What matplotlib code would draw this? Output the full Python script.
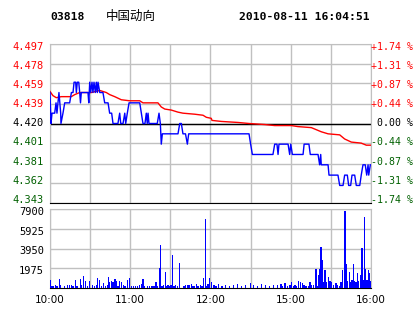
# Intraday chart: 03818 price / average line on top, volume bars below

import matplotlib
matplotlib.use('Agg')
import matplotlib.pyplot as plt
import matplotlib.transforms as mtransforms

# --- Header text ---
code = '03818'
name = '中国动向'
stamp = '2010-08-11 16:04:51'

# --- Axis labels ---
prev_close = 4.42
price_ticks = [4.343, 4.362, 4.381, 4.401, 4.420, 4.439, 4.459, 4.478, 4.497]
price_labels = ['4.343', '4.362', '4.381', '4.401', '4.420', '4.439', '4.459', '4.478', '4.497']
pct_labels = ['-1.74 %', '-1.31 %', '-0.87 %', '-0.44 %', '0.00 %', '+0.44 %', '+0.87 %', '+1.31 %', '+1.74 %']
vol_ticks = [1975, 3950, 5925, 7900]
time_ticks = [0, 60, 120, 180, 240]   # minutes of trading since 10:00
time_labels = ['10:00', '11:00', '12:00', '15:00', '16:00']

# --- Price line (minute, price) ---
price_min = [0, 0.75, 1.5, 3.5, 4.5, 5.2, 6.7, 8, 8.2, 9.7, 11, 14.7, 16, 17.2, 18, 19.2,
             19.7, 20.4, 21.5, 22.2, 22.8, 23.4, 28.4, 29, 29.7, 30.4, 31.4, 32.1, 32.9,
             33.9, 34.6, 35.4, 35.9, 37.2, 39.6, 40.9, 43.4, 44.6, 46.1, 47.1, 50.8, 52.1,
             52.9, 54.6, 55.9, 56.6, 57.8, 59.1, 67.1, 68.3, 69.5, 71, 72, 72.7, 73.3, 74,
             80.2, 81.5, 82.5, 83.2, 84, 95.7, 97, 98.2, 99.4, 101.3, 102.7, 103.7, 148.8,
             150, 151.3, 166.7, 168, 169.7, 170.5, 171.2, 178, 179.2, 180, 181.2, 189.2,
             190, 193.6, 194.6, 200.4, 201.6, 202.4, 202.8, 207.9, 208.6, 215.3, 216.6,
             219.1, 220.3, 222.3, 223.3, 224.8, 225.8, 227.8, 229, 231.6, 232.7, 234,
             235.7, 236.8, 237.8, 238.3, 239.5]
price = [4.45, 4.42, 4.43, 4.43, 4.44, 4.43, 4.45, 4.43, 4.42, 4.43, 4.44, 4.44, 4.45, 4.45,
         4.46, 4.46, 4.45, 4.46, 4.46, 4.45, 4.44, 4.45, 4.45, 4.44, 4.46, 4.45, 4.46, 4.45,
         4.46, 4.45, 4.46, 4.45, 4.46, 4.45, 4.45, 4.44, 4.44, 4.43, 4.43, 4.42, 4.42, 4.43,
         4.42, 4.42, 4.43, 4.42, 4.43, 4.44, 4.44, 4.43, 4.42, 4.42, 4.43, 4.42, 4.43, 4.42,
         4.42, 4.43, 4.42, 4.40, 4.41, 4.41, 4.42, 4.42, 4.41, 4.41, 4.40, 4.41, 4.41,
         4.40, 4.39, 4.39, 4.40, 4.40, 4.39, 4.40, 4.40, 4.39, 4.40, 4.39, 4.39,
         4.40, 4.40, 4.39, 4.39, 4.38, 4.39, 4.38, 4.38, 4.37, 4.37, 4.36,
         4.36, 4.37, 4.37, 4.36, 4.36, 4.37, 4.37, 4.36, 4.36, 4.37, 4.38,
         4.38, 4.37, 4.38, 4.37, 4.38]

# --- Average price line (minute, price) ---
avg_min = [0, 2.2, 4.7, 8.4, 12.2, 15.9, 18.5, 22.2, 30.9, 37.2, 42.1, 44.6, 48.4, 53.3,
           59.6, 67.1, 69.5, 80.7, 83.2, 85.8, 90.7, 95.7, 99.4, 108.2, 114.4, 116.9, 120.6,
           121.1, 128.1, 140.6, 148.8, 160.5, 168, 180.4, 185.4, 195.4, 202.8, 207.9, 216.6,
           220.3, 225.3, 232.7, 236.5, 239.8]
avg = [4.451, 4.447, 4.445, 4.446, 4.446, 4.446, 4.448, 4.450, 4.450, 4.452, 4.450, 4.448,
       4.446, 4.443, 4.442, 4.442, 4.440, 4.440, 4.436, 4.434, 4.433, 4.431, 4.430, 4.429,
       4.428, 4.426, 4.425, 4.423, 4.422, 4.421, 4.420, 4.419, 4.418, 4.418, 4.417, 4.416,
       4.412, 4.410, 4.409, 4.405, 4.402, 4.401, 4.399, 4.399]

# --- Volume bars (minute, shares) ---
vol_min = [0, 1, 2.2, 4, 5.2, 7, 8, 11, 13, 14.5, 16, 17.2, 19, 20.2, 22.7, 23.4, 24.9, 26.4,
           27.9, 29.4, 31.7, 33.4, 34.6, 35.4, 37.1, 38.4, 40.1, 41.4, 42.9, 43.6, 44.6, 45.9,
           47.1, 48.6, 49.6, 50.8, 51.8, 53.3, 54.8, 56.1, 57.8, 59.3, 60.8, 62.3, 63.8, 65.3,
           67, 68.3, 69.5, 70.8, 72.8, 74.5, 76.3, 77.8, 79.3, 80.5, 81.7, 82.5, 83.7, 85,
           86.2, 87.2, 88.2, 89.5, 90.5, 91.5, 92.7, 94, 95.2, 97, 98.2, 100.2, 101.2, 103.2,
           104.4, 105.7, 106.9, 108.2, 109.4, 110.7, 112.4, 113.6, 114.6, 116.1, 117.1, 118.1,
           119.1, 120.6, 122.5, 124, 126, 128.5, 131, 134, 137, 140, 143, 146, 150, 152, 155,
           158, 161, 164, 167, 170, 172.7, 174, 175.7, 177.4, 179.4, 180.7, 181.9, 183.2,
           184.4, 185.7, 187.4, 188.9, 189.9, 191.4, 193.1, 194.4, 195.6, 196.9, 198.9, 199.9,
           200.9, 201.9, 202.6, 203.6, 204.4, 205.6, 206.9, 208.4, 209.3, 210.6, 211.8, 213.8,
           214.8, 216.3, 217.6, 218.8, 220, 220.6, 221.6, 222.6, 223.8, 224.8, 225.8, 226.8,
           227.8, 228.8, 229.8, 230.8, 232, 233.3, 234.3, 235, 236.1, 237, 238, 238.8, 239.5]
vol = [800, 250, 250, 300, 250, 900, 300, 250, 300, 300, 300, 250, 800, 250, 900, 350, 1250,
       700, 250, 700, 300, 200, 350, 1050, 800, 200, 500, 200, 350, 1100, 650, 700, 600, 900,
       700, 250, 700, 650, 350, 250, 800, 1000, 250, 200, 200, 200, 350, 450, 900, 250, 200,
       200, 200, 200, 570, 250, 1980, 4320, 200, 300, 1570, 200, 300, 200, 300, 3320, 200,
       300, 200, 2480, 50, 250, 300, 350, 350, 450, 250, 250, 450, 250, 350, 250, 980, 6930,
       200, 450, 970, 600, 300, 250, 400, 200, 350, 250, 300, 450, 250, 300, 500, 300, 250,
       400, 300, 250, 350, 300, 400, 250, 500, 250, 330, 600, 250, 330, 250, 730, 600, 500,
       330, 250, 170, 600, 330, 330, 1930, 250, 1330, 1930, 4060, 2830, 600, 1830, 600, 1070,
       730, 600, 330, 500, 330, 250, 600, 1830, 330, 7730, 2430, 730, 1600, 600, 830, 2430,
       730, 600, 1500, 730, 1330, 4000, 830, 7060, 1930, 830, 1830, 1500, 730]

# --- Colours ---
up_color = '#ff0000'
down_color = '#006000'
grid_color = '#c0c0c0'
line_blue = '#0000ff'

W, H = 414, 314
fig = plt.figure(figsize=(W / 100, H / 100), dpi=100)
fig.patch.set_facecolor('white')

ax = fig.add_axes([50 / W, 1 - 203 / H, 321 / W, 159 / H])
axv = fig.add_axes([50 / W, 1 - 288 / H, 321 / W, 79 / H])

mono = 'DejaVu Sans Mono'

def label_color(i):
    if i > 4:
        return up_color
    if i == 4:
        return 'black'
    return down_color

# --- Price panel ---
ax.set_xlim(0, 240)
ax.set_ylim(price_ticks[0], price_ticks[-1])
for t in range(0, 241, 30):
    ax.axvline(t, color=grid_color, lw=1, zorder=1)
for p in price_ticks:
    ax.axhline(p, color=grid_color, lw=1, zorder=1)
ax.axhline(prev_close, color='black', lw=1, zorder=2)
ax.plot(avg_min, avg, color=up_color, lw=1, zorder=3)
ax.plot(price_min, price, color=line_blue, lw=1, zorder=4)
ax.set_xticks([])
ax.set_yticks([])
for s in ['left', 'right', 'top']:
    ax.spines[s].set_color(grid_color)
ax.spines['bottom'].set_color('black')

# side labels sit slightly inside the outer grid lines (as in the original)
n = len(price_labels)
for i in range(n):
    yf = (3 + i * (153.5 / (n - 1))) / 159
    ax.text(-6 / 321, yf, price_labels[i], transform=ax.transAxes, ha='right', va='center',
            family=mono, fontsize=7.5, color=label_color(i))
    ax.text(1 + 42 / 321, yf, pct_labels[i], transform=ax.transAxes, ha='right', va='center',
            family=mono, fontsize=7.1, color=label_color(i))

# --- Volume panel ---
axv.set_xlim(0, 240)
axv.set_ylim(0, vol_ticks[-1])
for t in range(0, 241, 30):
    axv.axvline(t, color=grid_color, lw=1, zorder=1)
for v in vol_ticks:
    axv.axhline(v, color=grid_color, lw=1, zorder=1)
axv.bar(vol_min, vol, width=1.0, color=line_blue, zorder=3, linewidth=0)
axv.set_yticks([])
off = mtransforms.ScaledTranslation(0, -3 / 100, fig.dpi_scale_trans)
for v in vol_ticks:
    axv.text(-6 / 321, v, str(v), transform=axv.get_yaxis_transform() + off,
             ha='right', va='center', family=mono, fontsize=7.5, color='black')
axv.set_xticks(time_ticks)
axv.set_xticklabels(time_labels, fontsize=7.5)
axv.tick_params(axis='x', length=0, pad=5)
for s in ['left', 'right', 'top']:
    axv.spines[s].set_color(grid_color)
axv.spines['bottom'].set_color('black')

# --- Header ---
fig.text(50 / W, 1 - 17 / H, code, family=mono, fontweight='bold', fontsize=8.2, va='center')
fig.text(106 / W, 1 - 16 / H, name, family=['Noto Sans CJK SC', 'DejaVu Sans'], fontsize=9, va='center')
fig.text(370 / W, 1 - 17 / H, stamp, family=mono, fontweight='bold', fontsize=8.2, va='center', ha='right')

fig.savefig('out.png', dpi=100)
